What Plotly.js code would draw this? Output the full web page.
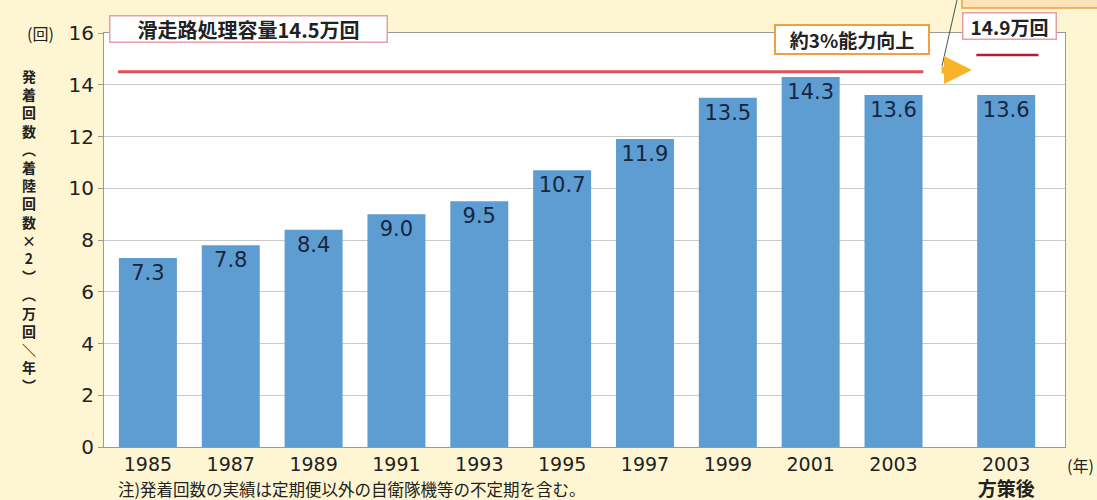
<!DOCTYPE html>
<html><head><meta charset="utf-8">
<script src="https://cdn.plot.ly/plotly-3.0.1.min.js"></script>
<style>html,body{margin:0;padding:0;background:#fef6d2;}#chart{width:1097px;height:500px;}</style>
</head><body><div id="chart"></div>
<script>
const years = ['1985','1987','1989','1991','1993','1995','1997','1999','2001','2003','2003'];
const flights = [7.3, 7.8, 8.4, 9.0, 9.5, 10.7, 11.9, 13.5, 14.3, 13.6, 13.6];
const valueLabels = ['7.3','7.8','8.4','9.0','9.5','10.7','11.9','13.5','14.3','13.6','13.6'];
const capacityNow = 14.5;
const capacityAfter = 14.9;
const capacityLabel = '滑走路処理容量14.5万回';
const afterLabel = '14.9万回';
const improveLabel = '約3%能力向上';
const measureLabel = '方策後';
const yTicks = [0, 2, 4, 6, 8, 10, 12, 14, 16];
const yTitle = '発着回数︵着陸回数×2︶︵万回＼年︶';
const footnote = '注)発着回数の実績は定期便以外の自衛隊機等の不定期を含む。';

// x positions: evenly spaced, last (after measures) set apart
const xs = years.map((y, i) => i < years.length - 1 ? i : i + 0.36);
const tickText = years.map((y, i) => i < years.length - 1 ? y : y + '<br><b style="font-family:Noto Sans CJK JP">' + measureLabel + '</b>');

const NFONT = 'DejaVu Sans, Liberation Sans, sans-serif';
const JFONT = 'Noto Sans CJK JP, sans-serif';

const trace = {
  type: 'bar', x: xs, y: flights, width: 0.7,
  marker: {color: '#5e9dd2'},
  text: valueLabels, textposition: 'inside', insidetextanchor: 'end',
  textfont: {family: NFONT, size: 21, color: '#17253f'},
  constraintext: 'none', cliponaxis: false, hoverinfo: 'none'
};

// helpers px -> paper
const L = 104, R = 1065, T = 33, B = 447;
const px = x => (x - L) / (R - L);
const py = y => (B - y) / (B - T);

const layout = {
  width: 1097, height: 500,
  margin: {l: L, r: 1097 - R, t: T, b: 500 - B},
  paper_bgcolor: '#fef6d2', plot_bgcolor: '#ffffff',
  showlegend: false,
  font: {family: NFONT, color: '#222'},
  xaxis: {
    range: [-0.53, 11.07], tickvals: xs, ticktext: tickText,
    tickfont: {family: NFONT, size: 19, color: '#222'},
    showgrid: false, zeroline: false, showline: true, linecolor: '#999', linewidth: 1,
    ticks: '', mirror: true, fixedrange: true
  },
  yaxis: {
    range: [0, 16], tickvals: yTicks,
    tickfont: {family: NFONT, size: 20, color: '#222'},
    showgrid: true, gridcolor: '#c9c9c9', gridwidth: 1,
    zeroline: false, showline: true, linecolor: '#999', linewidth: 1,
    ticks: 'outside', ticklen: 5, tickcolor: '#999', mirror: true, fixedrange: true
  },
  shapes: [
    {type: 'line', xref: 'x', yref: 'y', x0: -0.36, x1: 9.36, y0: capacityNow, y1: capacityNow,
     line: {color: '#e0505a', width: 3}},
    {type: 'line', xref: 'x', yref: 'y', x0: 10.0, x1: 10.75, y0: capacityAfter + 0.25, y1: capacityAfter + 0.25,
     line: {color: '#b02030', width: 2.5}},
    {type: 'line', xref: 'paper', yref: 'paper', x0: px(957), x1: px(942), y0: py(0), y1: py(66),
     line: {color: '#445544', width: 1}},
    {type: 'rect', xref: 'paper', yref: 'paper', x0: px(962), x1: px(1100), y0: py(-10), y1: py(8),
     fillcolor: '#fde4b8', line: {color: '#f0a040', width: 1.5}}
  ],
  annotations: [
    {xref: 'paper', yref: 'paper', x: px(248), y: py(29), xanchor: 'center', yanchor: 'middle',
     text: capacityLabel, showarrow: false,
     font: {family: JFONT, size: 20, color: '#222', weight: 'bold'}, bgcolor: '#ffffff', bordercolor: '#e4a0aa',
     borderwidth: 1.5, borderpad: 1, width: 274, height: 23},
    {xref: 'paper', yref: 'paper', x: px(852), y: py(40), xanchor: 'center', yanchor: 'middle',
     text: improveLabel, showarrow: false,
     font: {family: JFONT, size: 19, color: '#222', weight: 'bold'}, bgcolor: '#ffffff', bordercolor: '#f0a040',
     borderwidth: 2, borderpad: 1, width: 150, height: 25},
    {xref: 'paper', yref: 'paper', x: px(1009), y: py(26), xanchor: 'center', yanchor: 'middle',
     text: afterLabel, showarrow: false,
     font: {family: JFONT, size: 19, color: '#222', weight: 'bold'}, bgcolor: '#ffffff', bordercolor: '#e4a0aa',
     borderwidth: 1.5, borderpad: 1, width: 90, height: 23},
    {xref: 'paper', yref: 'paper', x: px(972), y: py(70), ax: -32, ay: 0, text: '',
     showarrow: true, arrowhead: 2, arrowsize: 0.8, arrowwidth: 7, arrowcolor: '#f7b32b'},
    {xref: 'paper', yref: 'paper', x: px(56), y: py(33), xanchor: 'right', yanchor: 'middle',
     text: '(回)', showarrow: false,
     font: {family: JFONT, size: 16, color: '#222'}},
    {xref: 'paper', yref: 'paper', x: px(1080), y: py(465), xanchor: 'center', yanchor: 'middle',
     text: '(年)', showarrow: false,
     font: {family: JFONT, size: 16, color: '#222'}},
    {xref: 'paper', yref: 'paper', x: px(29), y: py(230), xanchor: 'center', yanchor: 'middle',
     text: yTitle.split('').join('<br>'), showarrow: false,
     font: {family: JFONT, size: 14, color: '#222', weight: 'bold'}},
    {xref: 'paper', yref: 'paper', x: px(116), y: py(489), xanchor: 'left', yanchor: 'middle',
     text: footnote, showarrow: false,
     font: {family: JFONT, size: 16.5, color: '#222'}}
  ]
};

Plotly.newPlot('chart', [trace], layout, {displayModeBar: false, staticPlot: true});
</script></body></html>
